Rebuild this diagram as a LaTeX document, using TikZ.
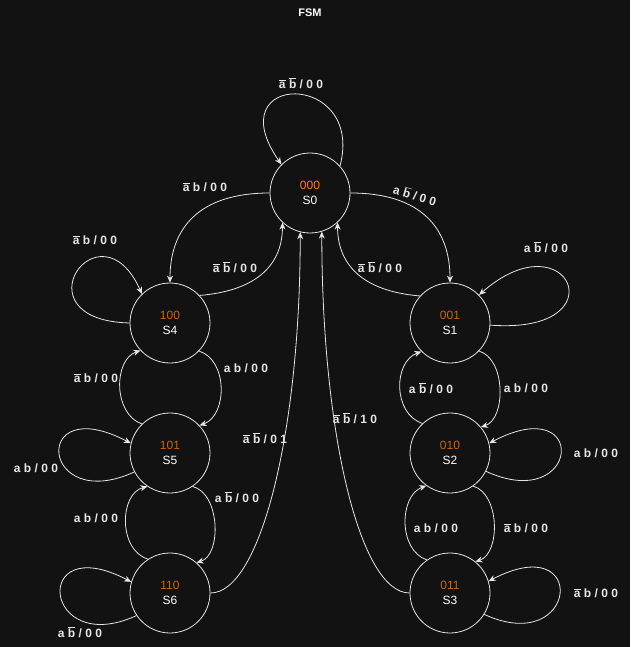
\documentclass[tikz,border=0pt]{standalone}
\usepackage{fontspec}
\setmainfont{Liberation Sans}
\usepackage{xcolor}
\usepackage{tikz}
\usetikzlibrary{arrows.meta}
\definecolor{bgdark}{HTML}{121212}
\definecolor{linegray}{HTML}{E6E6E6}
\definecolor{codeorange}{HTML}{FF8000}
\definecolor{codebrown}{HTML}{CC6600}
\newcommand{\nota}{\ensuremath{\overline{\hbox{a}}}}
\newcommand{\notb}{\ensuremath{\overline{\hbox{b}}}}

\begin{document}
\begin{tikzpicture}[x=1pt, y=-1pt, >={Stealth[length=7pt, width=6pt]},
        state/.style={draw=linegray, circle, minimum size=80pt, inner sep=0pt,
            line width=0.8pt, text=white, align=center,
            font=\fontsize{12}{15}\selectfont},
        edge/.style={draw=linegray, line width=0.8pt, ->},
        lbl/.style={text=linegray, inner sep=1pt,
            font=\bfseries\fontsize{12}{14}\selectfont}]
        \fill[bgdark] (0,0) rectangle (630,647);
        \useasboundingbox (0,0) rectangle (630,647);
        \node[text=white, font=\bfseries\fontsize{11}{13}\selectfont] (title) at (310,13) {FSM};
        % states
        \node[state] (s0) at (310,193) {\textcolor{codeorange}{000}\\S0};
        \node[state] (s4) at (170,323) {\textcolor{codebrown}{100}\\S4};
        \node[state] (s5) at (170,453) {\textcolor{codebrown}{101}\\S5};
        \node[state] (s6) at (170,593) {\textcolor{codebrown}{110}\\S6};
        \node[state] (s1) at (450,323) {\textcolor{codebrown}{001}\\S1};
        \node[state] (s2) at (450,453) {\textcolor{codebrown}{010}\\S2};
        \node[state] (s3) at (450,593) {\textcolor{codebrown}{011}\\S3};
        % top
        \draw[edge] (s0.42) .. controls +(25,-96) and +(-65,-93) .. (s0.135)
            node[lbl] at (301,83) {\nota{} \notb{} / 0 0};
        \draw[edge] (s0.180) .. controls +(-70,0) and +(0,-55) .. (s4.90)
            node[lbl] at (205,187) {\nota{} b / 0 0};
        \draw[edge] (s4.43) .. controls +(60,-5) and +(0,40) .. (s0.227)
            node[lbl] at (235,267) {\nota{} \notb{} / 0 0};
        \draw[edge] (s0.0) .. controls +(70,0) and +(0,-55) .. (s1.90)
            node[lbl, rotate=-16] at (415,195) {a \notb{} / 0 0};
        \draw[edge] (s1.138) .. controls +(-60,-5) and +(0,40) .. (s0.313)
            node[lbl] at (380,267) {\nota{} \notb{} / 0 0};
        \draw[edge] (s6.0) .. controls +(50,0) and +(0,200) .. (s0.256)
            node[lbl] at (265,438) {\nota{} \notb{} / 0 1};
        \draw[edge] (s3.180) .. controls +(-50,0) and +(0,200) .. (s0.287)
            node[lbl] at (355,418) {\nota{} \notb{} / 1 0};
        % left column
        \draw[edge] (s4.180) .. controls +(-115,-3) and +(-42,-94) .. (s4.134)
            node[lbl] at (95,240) {\nota{} b / 0 0};
        \draw[edge] (s4.316) .. controls +(29,9) and +(28,-10) .. (s5.43)
            node[lbl] at (246,368) {a b / 0 0};
        \draw[edge] (s5.134) .. controls +(-29,-10) and +(-27,9) .. (s4.223)
            node[lbl] at (96,378) {\nota{} b / 0 0};
        \draw[edge] (s5.208) .. controls +(-94,43) and +(-101,-53) .. (s5.166)
            node[lbl] at (36,468) {a b / 0 0};
        \draw[edge] (s5.304) .. controls +(28,7) and +(25,-7) .. (s6.49)
            node[lbl] at (237,497) {a \notb{} / 0 0};
        \draw[edge] (s6.123) .. controls +(-30,-9) and +(-28,7) .. (s5.236)
            node[lbl] at (96,518) {a b / 0 0};
        \draw[edge] (s6.214) .. controls +(-94,43) and +(-101,-53) .. (s6.164)
            node[lbl] at (80,632) {a \notb{} / 0 0};
        % right column
        \draw[edge] (s1.357) .. controls +(130,10) and +(90,-79) .. (s1.44)
            node[lbl] at (546,247) {a \notb{} / 0 0};
        \draw[edge] (s1.316) .. controls +(27,8) and +(25,-8) .. (s2.40)
            node[lbl] at (526,388) {a b / 0 0};
        \draw[edge] (s2.133) .. controls +(-30,-10) and +(-28,10) .. (s1.225)
            node[lbl] at (431,388) {a \notb{} / 0 0};
        \draw[edge] (s2.333) .. controls +(94,43) and +(101,-53) .. (s2.14)
            node[lbl] at (596,453) {a b / 0 0};
        \draw[edge] (s2.305) .. controls +(27,8) and +(25,-8) .. (s3.51)
            node[lbl] at (526,528) {\nota{} b / 0 0};
        \draw[edge] (s3.125) .. controls +(-29,-10) and +(-27,10) .. (s2.234)
            node[lbl] at (436,528) {a b / 0 0};
        \draw[edge] (s3.328) .. controls +(94,43) and +(101,-53) .. (s3.17)
            node[lbl] at (596,593) {\nota{} b / 0 0};
    \end{tikzpicture}
\end{document}
